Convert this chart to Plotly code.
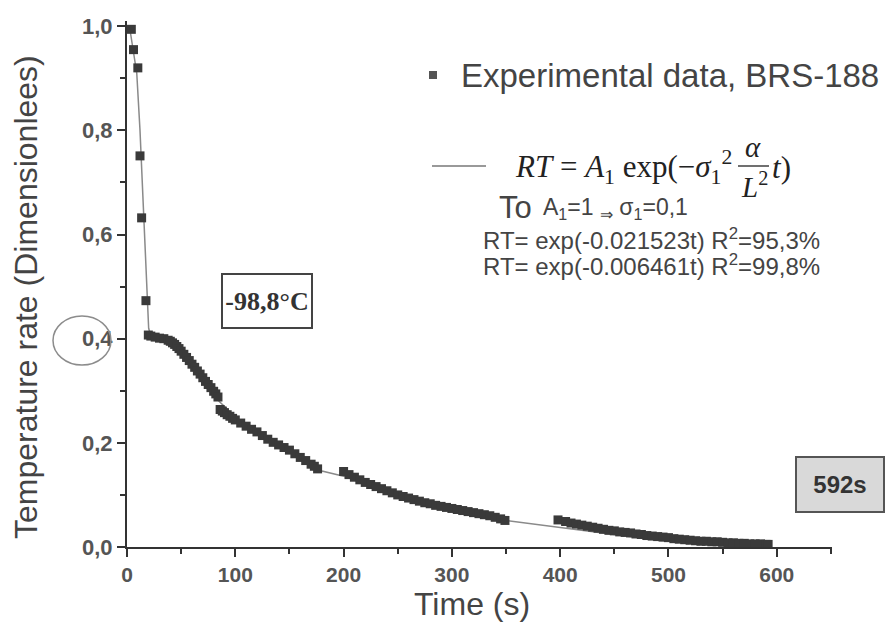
import plotly.graph_objects as go

# ---------------- data ----------------
time_exp = [4, 6, 10, 12, 13.5, 17.5, 19.7,
            22, 26, 30, 34, 38, 40, 42, 44, 46, 48, 50, 52.5, 55, 57.5, 60,
            62.5, 65, 67.5, 70, 72.5, 75, 77.5, 80, 82, 84,
            86, 88, 90, 92.5, 95, 97.5, 100, 105, 110, 115, 120, 125, 130,
            135, 140, 145, 150, 155, 160, 165, 170, 173, 176,
            200, 205, 210, 215, 220, 225, 230, 235, 240, 245, 250, 255, 260,
            265, 270, 275, 280, 285, 290, 295, 300, 305, 310, 315, 320, 325,
            330, 335, 340, 345, 349,
            398, 405, 410, 415, 420, 425, 430, 435, 440, 445, 450, 455, 460,
            465, 470, 475, 480, 485, 490, 495, 500, 505, 510, 515, 520, 525,
            530, 535, 540, 545, 550, 555, 560, 565, 570, 575, 580, 585, 590, 592]
rt_exp = [0.994, 0.955, 0.920, 0.751, 0.632, 0.473, 0.407,
          0.405, 0.403, 0.401, 0.400, 0.397, 0.395, 0.392, 0.389, 0.385, 0.381,
          0.376, 0.370, 0.364, 0.358, 0.351, 0.345, 0.338, 0.332, 0.325, 0.318,
          0.312, 0.306, 0.299, 0.294, 0.288,
          0.264, 0.261, 0.258, 0.254, 0.251, 0.247, 0.244, 0.238, 0.232, 0.226,
          0.221, 0.214, 0.207, 0.201, 0.196, 0.191, 0.186, 0.179, 0.172, 0.166,
          0.159, 0.155, 0.150,
          0.145, 0.139, 0.134, 0.129, 0.124, 0.120, 0.116, 0.112, 0.108, 0.104,
          0.100, 0.097, 0.094, 0.091, 0.088, 0.085, 0.083, 0.080, 0.078, 0.076,
          0.074, 0.072, 0.070, 0.068, 0.066, 0.064, 0.062, 0.060, 0.057, 0.054,
          0.051,
          0.052, 0.049, 0.046, 0.044, 0.042, 0.040, 0.038, 0.036, 0.034, 0.032,
          0.031, 0.029, 0.028, 0.027, 0.025, 0.024, 0.022, 0.021, 0.020, 0.019,
          0.018, 0.016, 0.015, 0.014, 0.013, 0.012, 0.011, 0.011, 0.010, 0.010,
          0.009, 0.008, 0.008, 0.007, 0.007, 0.006, 0.006, 0.006, 0.005, 0.005]

time_fit = [0, 3, 6, 9, 12, 14, 16, 18, 20, 22, 40, 60, 80, 85, 100, 120, 150,
            180, 200, 250, 300, 350, 375, 396, 420, 450, 480, 500, 520, 545]
rt_fit = [1.0, 0.99, 0.95, 0.91, 0.80, 0.70, 0.60, 0.49, 0.42, 0.405, 0.392,
          0.350, 0.298, 0.280, 0.250, 0.220, 0.185, 0.146, 0.136, 0.097, 0.073,
          0.051, 0.044, 0.038, 0.031, 0.024, 0.016, 0.011, 0.008, 0.005]

x_ticks = [0, 100, 200, 300, 400, 500, 600]
x_tick_labels = ["0", "100", "200", "300", "400", "500", "600"]
y_ticks = [0.0, 0.2, 0.4, 0.6, 0.8, 1.0]
y_tick_labels = ["0,0", "0,2", "0,4", "0,6", "0,8", "1,0"]

# ---------------- layout geometry ----------------
W, H = 885, 629
L, R, T, B = 127, 832, 21, 547


def px(x):
    return (x - L) / (R - L)


def py(y):
    return (B - y) / (B - T)


SANS = "Liberation Sans, Arial, sans-serif"
SERIF = "Liberation Serif, Times New Roman, serif"
AX = "#333333"
TXT = "#444444"
NB = "\u00a0"

fig = go.Figure()
fig.add_trace(go.Scatter(x=time_fit, y=rt_fit, mode="lines",
                         line=dict(color="#8a8a8a", width=1.5),
                         showlegend=False, hoverinfo="skip"))
fig.add_trace(go.Scatter(x=time_exp, y=rt_exp, mode="markers",
                         marker=dict(symbol="square", size=9, color="#3a3a3a",
                                     line=dict(width=0)),
                         showlegend=False))

formula_left = ("<i>RT</i>" + NB + "=" + NB + "<i>A</i><sub>1</sub>" + NB +
                "exp(−<i>σ</i><sub>1</sub><sup>2</sup>")

annotations = [
    dict(text="Temperature rate (Dimensionlees)", x=px(26), y=py(297),
         textangle=-90, font=dict(family=SANS, size=32, color=TXT)),
    dict(text="Time (s)", x=px(472), y=py(604),
         font=dict(family=SANS, size=32, color=TXT)),
    dict(text="Experimental data, BRS-188", x=px(459), y=py(75), xanchor="left",
         font=dict(family=SANS, size=33, color=TXT)),
    dict(text=formula_left, x=px(734), y=py(167), xanchor="right",
         font=dict(family=SERIF, size=31, color="#222222")),
    dict(text="<i>α</i>", x=px(753), y=py(147),
         font=dict(family=SERIF, size=29, color="#222222")),
    dict(text="<i>L</i><sup>2</sup>", x=px(754), y=py(185),
         font=dict(family=SERIF, size=29, color="#222222")),
    dict(text="<i>t</i>)", x=px(770), y=py(167), xanchor="left",
         font=dict(family=SERIF, size=31, color="#222222")),
    dict(text="To", x=px(497), y=py(207), xanchor="left",
         font=dict(family=SANS, size=31, color=TXT)),
    dict(text="A<sub>1</sub>=1 <sub>⇒</sub> σ<sub>1</sub>=0,1", x=px(541), y=py(209),
         xanchor="left", font=dict(family=SANS, size=23, color=TXT)),
    dict(text="RT= exp(-0.021523t) R<sup>2</sup>=95,3%", x=px(481), y=py(239),
         xanchor="left", font=dict(family=SANS, size=24, color=TXT)),
    dict(text="RT= exp(-0.006461t) R<sup>2</sup>=99,8%", x=px(481), y=py(265),
         xanchor="left", font=dict(family=SANS, size=24, color=TXT)),
    dict(text="<b>-98,8°C</b>", x=px(267), y=py(301), width=86, height=50,
         bgcolor="white", bordercolor="#444444", borderwidth=2, borderpad=1,
         font=dict(family=SERIF, size=26, color="#333333")),
    dict(text="<b>592s</b>", x=px(840), y=py(484), width=84, height=51,
         bgcolor="#d9d9d9", bordercolor="#555555", borderwidth=2, borderpad=1,
         font=dict(family=SANS, size=24, color="#333333")),
]
for a in annotations:
    a.setdefault("xref", "paper")
    a.setdefault("yref", "paper")
    a.setdefault("showarrow", False)
    a.setdefault("xanchor", "center")
    a.setdefault("yanchor", "middle")

shapes = [
    # legend marker
    dict(type="rect", xref="paper", yref="paper", x0=px(429), x1=px(437),
         y0=py(79), y1=py(71), fillcolor="#555555", line=dict(width=0)),
    # legend line
    dict(type="line", xref="paper", yref="paper", x0=px(432), x1=px(486),
         y0=py(166), y1=py(166), line=dict(color="#777777", width=1.5)),
    # fraction bar
    dict(type="line", xref="paper", yref="paper", x0=px(738), x1=px(769),
         y0=py(166), y1=py(166), line=dict(color="#222222", width=1.3)),
    # circle around 0,4
    dict(type="circle", xref="paper", yref="paper", x0=px(53), x1=px(111),
         y0=py(365), y1=py(316), line=dict(color="#8c8c8c", width=1.5)),
]

fig.update_layout(
    width=W, height=H,
    margin=dict(l=L, r=W - R, t=T, b=H - B, pad=0),
    paper_bgcolor="white", plot_bgcolor="white",
    showlegend=False,
    annotations=annotations,
    shapes=shapes,
    xaxis=dict(range=[0, 651], showgrid=False, zeroline=False,
               showline=True, linecolor=AX, linewidth=2,
               ticks="outside", ticklen=8, tickwidth=2, tickcolor=AX,
               tickvals=x_ticks, ticktext=x_tick_labels,
               tickfont=dict(family=SANS, size=21, color="#555555", weight="bold"),
               minor=dict(dtick=50, tick0=0, ticks="outside", ticklen=5,
                          tickwidth=2, tickcolor=AX)),
    yaxis=dict(range=[0, 1.01], showgrid=False, zeroline=False,
               showline=True, linecolor=AX, linewidth=2,
               ticks="outside", ticklen=8, tickwidth=2, tickcolor=AX,
               tickvals=y_ticks, ticktext=y_tick_labels,
               tickfont=dict(family=SANS, size=22, color="#555555", weight="bold"),
               minor=dict(dtick=0.1, tick0=0, ticks="outside", ticklen=5,
                          tickwidth=2, tickcolor=AX)),
)

fig.write_html("out.html",
               config={"displayModeBar": False},
               post_script="document.body.style.margin='0';"
                           "document.body.style.overflow='hidden';")
